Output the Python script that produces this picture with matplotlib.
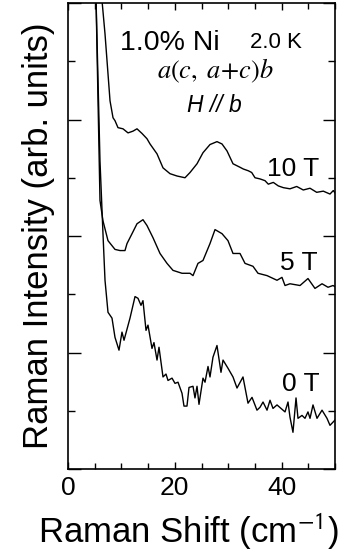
import matplotlib
matplotlib.use('Agg')
import matplotlib.pyplot as plt
from matplotlib.ticker import MultipleLocator

# Raman shift (cm^-1) and intensity (arb. units, stacked)
x_10T = [6.31, 6.93, 7.87, 8.43, 8.80, 9.36, 10.30, 11.24, 12.17, 12.92, 13.86, 14.79,
         15.36, 16.67, 17.79, 19.10, 20.41, 21.91, 22.85, 24.16, 25.28, 26.59, 27.90,
         28.84, 29.78, 30.90, 32.21, 32.83, 33.76, 34.40, 35.02, 35.96, 36.89, 37.51,
         38.45, 39.38, 40.32, 41.57, 42.83, 44.06, 45.32, 46.57, 47.81, 49.06, 49.68, 50.0]
y_10T = [8.10, 7.47, 6.32, 6.03, 5.98, 5.86, 5.84, 5.77, 5.80, 5.84, 5.76, 5.67,
         5.58, 5.41, 5.17, 5.07, 5.03, 5.00, 5.09, 5.24, 5.43, 5.57, 5.62,
         5.58, 5.46, 5.24, 5.18, 5.15, 5.12, 5.09, 5.00, 4.98, 4.95, 4.89,
         4.92, 4.86, 4.83, 4.81, 4.85, 4.79, 4.82, 4.75, 4.77, 4.72, 4.78, 4.74]

x_5T = [5.24, 5.99, 6.55, 7.49, 8.80, 9.74, 10.67, 11.05, 11.99, 12.92, 14.04, 14.79,
        15.92, 17.23, 18.54, 19.66, 21.35, 22.85, 23.41, 24.34, 25.28, 26.59, 27.53,
        28.84, 29.96, 30.90, 32.21, 33.15, 34.64, 35.58, 37.27, 39.14, 40.07, 40.64,
        41.57, 43.45, 44.94, 46.25, 47.57, 48.69, 49.63, 50.0]
y_5T = [8.10, 4.61, 4.26, 3.92, 3.77, 3.75, 3.75, 3.87, 4.04, 4.21, 4.28, 4.18,
        3.97, 3.70, 3.53, 3.41, 3.36, 3.36, 3.32, 3.53, 3.58, 3.87, 4.11,
        4.04, 3.92, 3.70, 3.70, 3.53, 3.48, 3.36, 3.32, 3.24, 3.29, 3.15,
        3.18, 3.15, 3.27, 3.10, 3.18, 3.12, 3.15, 3.13]

x_0T = [5.24, 5.99, 6.55, 6.93, 7.49, 8.24, 8.80, 9.55, 10.11, 10.49, 11.61, 12.55,
        13.11, 13.67, 14.04, 14.61, 14.98, 15.73, 16.10, 16.67, 17.04, 17.79, 18.35,
        18.73, 19.48, 20.04, 20.60, 21.35, 21.72, 22.28, 22.66, 23.41, 23.78, 24.16,
        24.53, 25.28, 25.66, 26.22, 26.59, 27.15, 27.90, 28.65, 29.03, 29.96, 30.90,
        31.65, 32.77, 33.71, 34.46, 35.39, 35.96, 36.52, 37.27, 37.83, 38.39, 39.14,
        40.64, 41.20, 41.57, 42.13, 42.70, 43.07, 43.82, 44.38, 44.94, 45.32, 45.88,
        46.63, 47.57, 48.50, 49.06, 50.0]
y_0T = [8.10, 5.29, 4.04, 3.24, 2.69, 2.59, 2.26, 2.04, 2.35, 2.21, 2.59, 2.96,
        2.93, 2.81, 2.89, 2.38, 2.47, 2.07, 2.17, 1.87, 2.09, 1.58, 1.63,
        1.52, 1.56, 1.47, 1.49, 1.30, 1.08, 1.08, 1.40, 1.42, 1.22, 1.42,
        1.11, 1.56, 1.49, 1.76, 1.58, 1.92, 2.12, 1.66, 1.87, 1.73, 1.58,
        1.39, 1.58, 1.13, 1.23, 1.01, 1.06, 1.15, 1.01, 1.18, 1.04, 1.10,
        0.98, 1.15, 0.89, 0.63, 1.22, 0.87, 0.92, 0.87, 0.98, 0.87, 1.10,
        0.87, 1.01, 0.87, 0.75, 0.84]

plt.rcParams['font.family'] = ['Liberation Sans', 'DejaVu Sans']
plt.rcParams['mathtext.fontset'] = 'stix'

fig = plt.figure(figsize=(3.41, 5.54), dpi=100)
ax = fig.add_axes([68 / 341, 85 / 554, 267 / 341, 466 / 554])

for xs, ys in [(x_10T, y_10T), (x_5T, y_5T), (x_0T, y_0T)]:
    ax.plot(xs, ys, color='black', lw=1.0)

ax.set_xlim(0, 50)
ax.set_ylim(0, 8)

ax.xaxis.set_major_locator(MultipleLocator(20))
ax.xaxis.set_minor_locator(MultipleLocator(5))
ax.yaxis.set_major_locator(MultipleLocator(2))
ax.yaxis.set_minor_locator(MultipleLocator(1))
ax.tick_params(which='both', direction='in', top=True, right=True, width=1.0)
ax.tick_params(axis='x', which='major', length=5, labelsize=19, pad=5)
ax.tick_params(axis='x', which='minor', length=4)
ax.tick_params(axis='y', which='major', length=9)
ax.tick_params(axis='y', which='minor', length=5)
ax.set_yticklabels([])
for s in ax.spines.values():
    s.set_linewidth(1.2)

ax.set_xlabel('Raman Shift (cm$^{\\mathsf{-1}}$)', fontsize=25)
ax.xaxis.set_label_coords(0.45, -0.092)
ax.set_ylabel('Raman Intensity (arb. units)', fontsize=25)
ax.yaxis.set_label_coords(-0.05, 0.5)

ax.text(0.195, 0.899, '1.0% Ni', transform=ax.transAxes, fontsize=20.5)
ax.text(0.682, 0.903, '2.0 K', transform=ax.transAxes, fontsize=16)
ax.text(0.333, 0.839, '$a(c,\\;a\\!+\\!c)b$', transform=ax.transAxes, fontsize=19)
ax.text(0.446, 0.766, 'H // b', transform=ax.transAxes, fontsize=16.5, style='italic')
ax.text(0.745, 0.629, '10 T', transform=ax.transAxes, fontsize=19)
ax.text(0.794, 0.427, '5 T', transform=ax.transAxes, fontsize=19)
ax.text(0.801, 0.167, '0 T', transform=ax.transAxes, fontsize=19)

fig.savefig('out.png', dpi=100)
